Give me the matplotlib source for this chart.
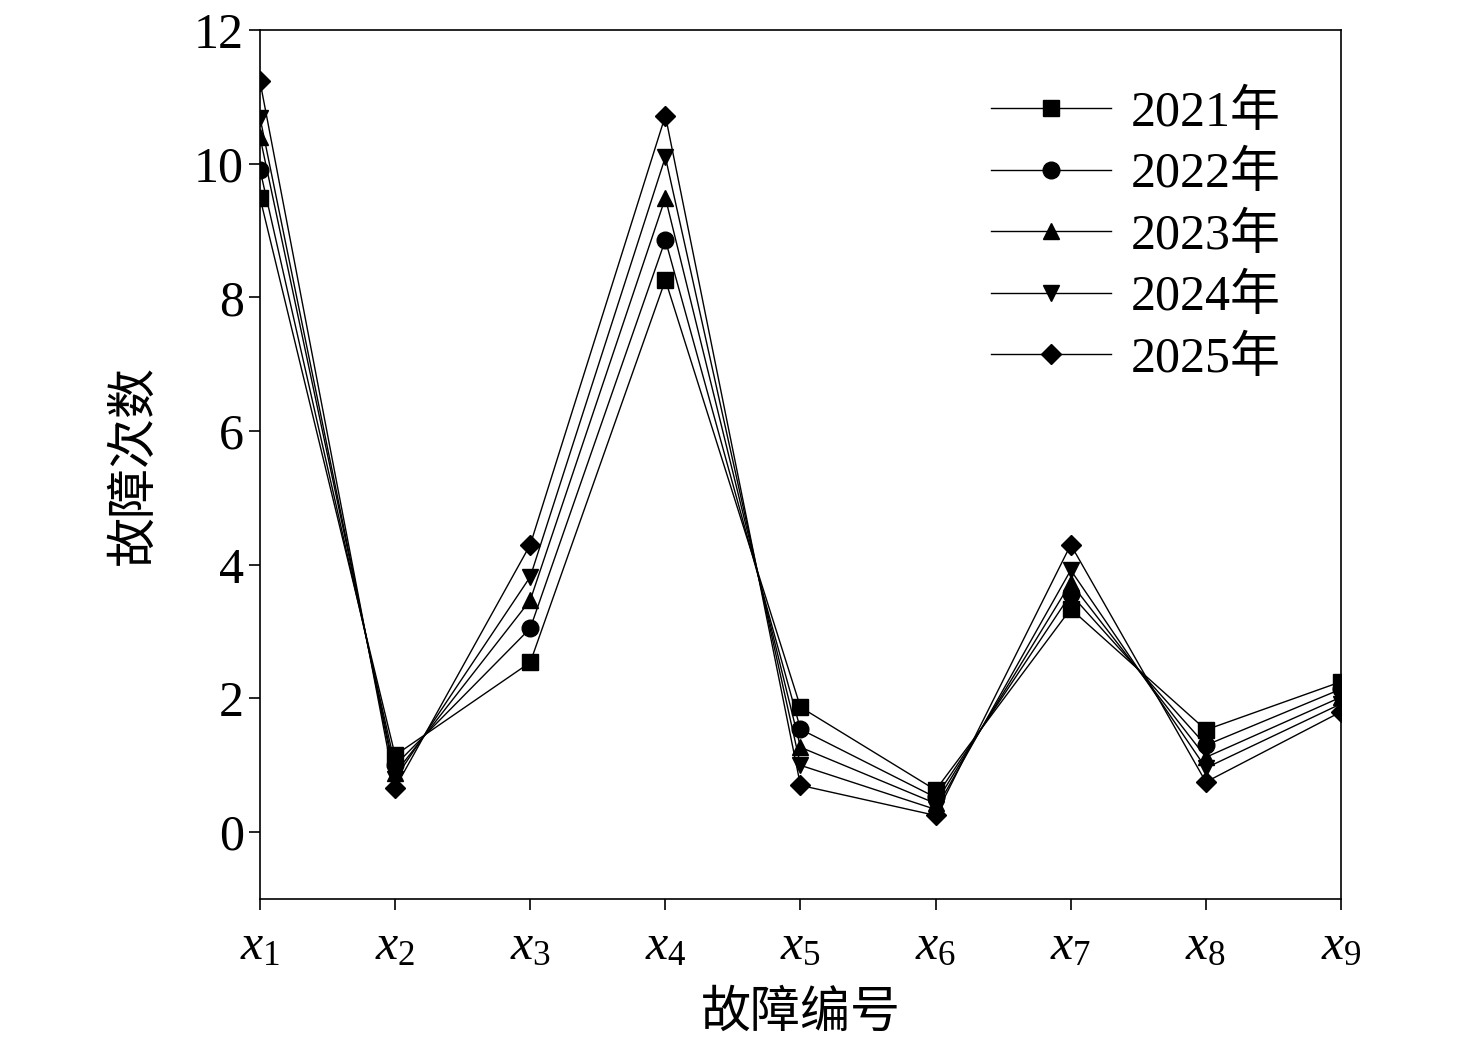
import numpy as np
import matplotlib.pyplot as plt

plt.rcParams['font.family'] = ['Liberation Serif', 'Noto Sans CJK SC']
plt.rcParams['mathtext.fontset'] = 'custom'
plt.rcParams['mathtext.it'] = 'Liberation Serif:italic'
plt.rcParams['mathtext.rm'] = 'Liberation Serif'

labels = [f'$x_{i}$' for i in range(1, 10)]
years = ['2021年', '2022年', '2023年', '2024年', '2025年']
markers = ['s', 'o', '^', 'v', 'D']
values = [
    [9.49, 1.15, 2.54, 8.26, 1.87, 0.63, 3.34, 1.53, 2.25],
    [9.91, 1.00, 3.05, 8.86, 1.54, 0.52, 3.56, 1.30, 2.14],
    [10.40, 0.88, 3.47, 9.49, 1.27, 0.43, 3.73, 1.12, 2.02],
    [10.69, 0.80, 3.82, 10.10, 1.00, 0.34, 3.92, 0.96, 1.92],
    [11.23, 0.66, 4.30, 10.72, 0.70, 0.25, 4.30, 0.75, 1.80],
]

fig = plt.figure(figsize=(14.76, 10.46), dpi=100)
ax = fig.add_axes([260/1476, 1-899/1046, (1341-260)/1476, (899-30)/1046])
x = np.arange(1, 10)
for y, m, lab in zip(values, markers, years):
    ax.plot(x, y, color='black', lw=1, marker=m, ms=12 if m != 'D' else 10.5, label=lab)

ax.set_xlim(1, 9)
ax.set_ylim(-1, 12)
ax.set_yticks([0, 2, 4, 6, 8, 10, 12])
ax.set_xticks(x)
ax.set_xticklabels(labels)
ax.tick_params(labelsize=36, length=8, width=1.2)
ax.tick_params(axis='x', pad=10)
for s in ax.spines.values():
    s.set_linewidth(1.2)
ax.set_xlabel('故障编号', fontsize=36, family=['Noto Sans CJK SC'], labelpad=12)
ax.set_ylabel('故障次数', fontsize=36, family=['Noto Sans CJK SC'], labelpad=25)
leg = ax.legend(loc='upper right', frameon=False, handlelength=2.4,
                borderaxespad=0.8, labelspacing=0.3, handletextpad=0.4,
                prop={'family': ['Liberation Serif', 'Noto Sans CJK SC'], 'size': 36})
fig.savefig('out.png', dpi=100)
